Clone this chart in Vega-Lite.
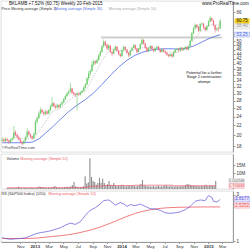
{
"$schema": "https://vega.github.io/schema/vega-lite/v6.json",
"padding": 0,
"spacing": 0,
"config": {"view": {"stroke": "#c8c8c8", "strokeWidth": 0.6}, "font": "Liberation Sans", "concat": {"spacing": 0}, "axis": {"labelFontSize": 4.5, "labelColor": "#333", "domainColor": "#999", "tickColor": "#999", "tickSize": 2, "labelPadding": 1, "grid": false, "title": null, "labelOverlap": false}, "axisX": {"labelOverlap": false, "labelSeparation": 0}, "axisTemporal": {"labelOverlap": false}},
"datasets": {
"one": [{}],
"p": [
{"d":"2012-08-17","o":19.0,"h":19.6,"l":18.7,"c":19.2,"v":0.6},
{"d":"2012-08-24","o":19.2,"h":19.5,"l":18.6,"c":18.9,"v":0.5},
{"d":"2012-08-31","o":18.9,"h":19.6,"l":18.7,"c":19.3,"v":0.7},
{"d":"2012-09-07","o":19.3,"h":19.5,"l":18.8,"c":19.0,"v":0.6},
{"d":"2012-09-14","o":19.0,"h":19.2,"l":18.4,"c":18.7,"v":0.5},
{"d":"2012-09-21","o":18.7,"h":19.4,"l":18.5,"c":19.1,"v":0.8},
{"d":"2012-09-28","o":19.1,"h":19.7,"l":18.9,"c":19.4,"v":0.6},
{"d":"2012-10-05","o":19.4,"h":21.9,"l":19.3,"c":20.6,"v":1.4},
{"d":"2012-10-12","o":20.6,"h":21.0,"l":19.8,"c":20.1,"v":0.9},
{"d":"2012-10-19","o":20.1,"h":20.3,"l":19.4,"c":19.6,"v":0.6},
{"d":"2012-10-26","o":19.6,"h":19.9,"l":19.0,"c":19.2,"v":0.5},
{"d":"2012-11-02","o":19.2,"h":19.4,"l":18.5,"c":18.6,"v":0.7},
{"d":"2012-11-09","o":18.6,"h":18.9,"l":18.1,"c":18.4,"v":0.8},
{"d":"2012-11-16","o":18.4,"h":19.1,"l":18.3,"c":18.9,"v":0.6},
{"d":"2012-11-23","o":18.9,"h":19.8,"l":18.8,"c":19.6,"v":0.7},
{"d":"2012-11-30","o":19.6,"h":21.4,"l":19.5,"c":20.7,"v":1.1},
{"d":"2012-12-07","o":20.7,"h":21.0,"l":20.0,"c":20.2,"v":0.7},
{"d":"2012-12-14","o":20.2,"h":20.4,"l":19.5,"c":19.7,"v":0.6},
{"d":"2012-12-21","o":19.7,"h":19.9,"l":19.1,"c":19.4,"v":0.5},
{"d":"2012-12-28","o":19.4,"h":20.5,"l":19.3,"c":20.2,"v":0.9},
{"d":"2013-01-04","o":20.2,"h":23.2,"l":20.1,"c":22.8,"v":1.6},
{"d":"2013-01-11","o":22.8,"h":24.0,"l":22.4,"c":23.6,"v":1.2},
{"d":"2013-01-18","o":23.6,"h":25.2,"l":23.4,"c":24.8,"v":1.3},
{"d":"2013-01-25","o":24.8,"h":26.2,"l":24.5,"c":25.6,"v":1.0},
{"d":"2013-02-01","o":25.6,"h":25.9,"l":24.7,"c":25.0,"v":0.8},
{"d":"2013-02-08","o":25.0,"h":25.3,"l":24.2,"c":24.6,"v":0.7},
{"d":"2013-02-15","o":24.6,"h":25.6,"l":24.3,"c":25.2,"v":0.9},
{"d":"2013-02-22","o":25.2,"h":25.5,"l":24.4,"c":24.7,"v":0.8},
{"d":"2013-03-01","o":24.7,"h":25.8,"l":24.5,"c":25.5,"v":1.0},
{"d":"2013-03-08","o":25.5,"h":26.9,"l":25.3,"c":26.5,"v":1.2},
{"d":"2013-03-15","o":26.5,"h":29.0,"l":26.3,"c":27.3,"v":1.9},
{"d":"2013-03-22","o":27.3,"h":27.6,"l":26.3,"c":26.6,"v":1.1},
{"d":"2013-03-29","o":26.6,"h":26.9,"l":25.8,"c":26.2,"v":0.8},
{"d":"2013-04-05","o":26.2,"h":27.2,"l":26.0,"c":26.8,"v":0.9},
{"d":"2013-04-12","o":26.8,"h":27.0,"l":25.9,"c":26.3,"v":0.7},
{"d":"2013-04-19","o":26.3,"h":27.3,"l":26.1,"c":27.0,"v":1.0},
{"d":"2013-04-26","o":27.0,"h":27.9,"l":26.8,"c":27.5,"v":1.1},
{"d":"2013-05-03","o":27.5,"h":28.8,"l":27.3,"c":28.4,"v":1.3},
{"d":"2013-05-10","o":28.4,"h":29.7,"l":28.2,"c":29.3,"v":1.4},
{"d":"2013-05-17","o":29.3,"h":30.4,"l":29.0,"c":30.0,"v":1.2},
{"d":"2013-05-24","o":30.0,"h":31.0,"l":29.7,"c":30.6,"v":1.5},
{"d":"2013-05-31","o":30.6,"h":33.4,"l":30.4,"c":31.5,"v":2.4},
{"d":"2013-06-07","o":31.5,"h":31.8,"l":29.9,"c":30.2,"v":4.4},
{"d":"2013-06-14","o":30.2,"h":30.6,"l":29.4,"c":29.8,"v":1.6},
{"d":"2013-06-21","o":29.8,"h":30.2,"l":29.0,"c":29.6,"v":1.2},
{"d":"2013-06-28","o":29.6,"h":30.4,"l":25.5,"c":30.0,"v":1.0},
{"d":"2013-07-05","o":30.0,"h":30.3,"l":29.3,"c":29.7,"v":1.1},
{"d":"2013-07-12","o":29.7,"h":30.7,"l":29.5,"c":30.3,"v":1.3},
{"d":"2013-07-19","o":30.3,"h":31.2,"l":30.0,"c":30.8,"v":1.8},
{"d":"2013-07-26","o":30.8,"h":32.2,"l":30.6,"c":31.8,"v":8.0},
{"d":"2013-08-02","o":31.8,"h":33.2,"l":31.5,"c":32.8,"v":3.5},
{"d":"2013-08-09","o":32.8,"h":35.2,"l":32.6,"c":34.8,"v":4.2},
{"d":"2013-08-16","o":34.8,"h":37.4,"l":34.0,"c":36.6,"v":19.4},
{"d":"2013-08-23","o":36.6,"h":38.0,"l":35.8,"c":37.4,"v":7.5},
{"d":"2013-08-30","o":37.4,"h":41.2,"l":37.0,"c":39.8,"v":5.0},
{"d":"2013-09-06","o":39.8,"h":41.8,"l":39.2,"c":41.0,"v":4.4},
{"d":"2013-09-13","o":41.0,"h":41.5,"l":39.8,"c":40.4,"v":2.6},
{"d":"2013-09-20","o":40.4,"h":42.2,"l":40.1,"c":41.6,"v":3.8},
{"d":"2013-09-27","o":41.6,"h":44.0,"l":41.3,"c":43.5,"v":7.0},
{"d":"2013-10-04","o":43.5,"h":45.6,"l":43.0,"c":45.0,"v":4.0},
{"d":"2013-10-11","o":45.0,"h":48.2,"l":44.6,"c":47.5,"v":6.5},
{"d":"2013-10-18","o":47.5,"h":50.8,"l":47.0,"c":49.6,"v":3.8},
{"d":"2013-10-25","o":49.6,"h":50.2,"l":47.6,"c":48.2,"v":2.4},
{"d":"2013-11-01","o":48.2,"h":48.7,"l":45.9,"c":46.5,"v":3.0},
{"d":"2013-11-08","o":46.5,"h":48.5,"l":45.8,"c":47.8,"v":5.0},
{"d":"2013-11-15","o":47.8,"h":48.1,"l":44.6,"c":45.0,"v":2.6},
{"d":"2013-11-22","o":45.0,"h":45.5,"l":43.2,"c":44.2,"v":2.0},
{"d":"2013-11-29","o":44.2,"h":46.5,"l":43.9,"c":46.0,"v":3.8},
{"d":"2013-12-06","o":46.0,"h":47.9,"l":45.6,"c":47.3,"v":2.2},
{"d":"2013-12-13","o":47.3,"h":47.6,"l":45.0,"c":45.5,"v":1.8},
{"d":"2013-12-20","o":45.5,"h":45.9,"l":43.5,"c":44.0,"v":2.0},
{"d":"2013-12-27","o":44.0,"h":44.4,"l":42.6,"c":43.2,"v":1.7},
{"d":"2014-01-03","o":43.2,"h":46.2,"l":42.9,"c":45.8,"v":2.6},
{"d":"2014-01-10","o":45.8,"h":47.8,"l":45.4,"c":47.2,"v":2.1},
{"d":"2014-01-17","o":47.2,"h":47.5,"l":45.5,"c":46.0,"v":1.8},
{"d":"2014-01-24","o":46.0,"h":46.3,"l":44.1,"c":44.6,"v":1.6},
{"d":"2014-01-31","o":44.6,"h":45.0,"l":42.8,"c":43.5,"v":2.0},
{"d":"2014-02-07","o":43.5,"h":45.9,"l":43.2,"c":45.5,"v":1.9},
{"d":"2014-02-14","o":45.5,"h":47.2,"l":45.2,"c":46.8,"v":1.7},
{"d":"2014-02-21","o":46.8,"h":48.6,"l":46.5,"c":48.0,"v":2.2},
{"d":"2014-02-28","o":48.0,"h":48.4,"l":46.0,"c":46.5,"v":1.8},
{"d":"2014-03-07","o":46.5,"h":46.8,"l":44.5,"c":45.0,"v":1.6},
{"d":"2014-03-14","o":45.0,"h":46.8,"l":44.7,"c":46.3,"v":2.0},
{"d":"2014-03-21","o":46.3,"h":49.0,"l":46.0,"c":48.5,"v":2.4},
{"d":"2014-03-28","o":48.5,"h":51.8,"l":48.2,"c":50.5,"v":3.0},
{"d":"2014-04-04","o":50.5,"h":51.0,"l":48.3,"c":48.8,"v":5.6},
{"d":"2014-04-11","o":48.8,"h":49.2,"l":46.3,"c":46.8,"v":2.4},
{"d":"2014-04-18","o":46.8,"h":47.1,"l":44.8,"c":45.3,"v":2.0},
{"d":"2014-04-25","o":45.3,"h":46.9,"l":45.0,"c":46.5,"v":1.7},
{"d":"2014-05-02","o":46.5,"h":48.0,"l":46.2,"c":47.6,"v":1.8},
{"d":"2014-05-09","o":47.6,"h":47.9,"l":45.8,"c":46.2,"v":1.5},
{"d":"2014-05-16","o":46.2,"h":46.5,"l":44.9,"c":45.4,"v":1.6},
{"d":"2014-05-23","o":45.4,"h":47.0,"l":45.1,"c":46.6,"v":1.9},
{"d":"2014-05-30","o":46.6,"h":47.8,"l":46.3,"c":47.3,"v":1.4},
{"d":"2014-06-06","o":47.3,"h":47.6,"l":45.6,"c":46.0,"v":1.7},
{"d":"2014-06-13","o":46.0,"h":46.3,"l":44.6,"c":45.0,"v":2.0},
{"d":"2014-06-20","o":45.0,"h":46.6,"l":44.7,"c":46.2,"v":1.5},
{"d":"2014-06-27","o":46.2,"h":46.5,"l":44.8,"c":45.2,"v":1.6},
{"d":"2014-07-04","o":45.2,"h":45.5,"l":44.1,"c":44.6,"v":1.9},
{"d":"2014-07-11","o":44.6,"h":44.9,"l":43.3,"c":43.8,"v":2.2},
{"d":"2014-07-18","o":43.8,"h":44.1,"l":42.6,"c":43.2,"v":2.4},
{"d":"2014-07-25","o":43.2,"h":44.4,"l":42.9,"c":44.0,"v":1.8},
{"d":"2014-08-01","o":44.0,"h":44.3,"l":42.5,"c":43.0,"v":1.6},
{"d":"2014-08-08","o":43.0,"h":45.2,"l":42.8,"c":44.8,"v":2.1},
{"d":"2014-08-15","o":44.8,"h":46.3,"l":44.5,"c":45.9,"v":1.5},
{"d":"2014-08-22","o":45.9,"h":46.8,"l":45.6,"c":46.3,"v":1.4},
{"d":"2014-08-29","o":46.3,"h":46.6,"l":45.1,"c":45.6,"v":1.7},
{"d":"2014-09-05","o":45.6,"h":47.2,"l":45.3,"c":46.8,"v":1.6},
{"d":"2014-09-12","o":46.8,"h":47.1,"l":45.5,"c":45.9,"v":1.5},
{"d":"2014-09-19","o":45.9,"h":47.0,"l":45.6,"c":46.6,"v":1.8},
{"d":"2014-09-26","o":46.6,"h":47.7,"l":46.3,"c":47.2,"v":1.6},
{"d":"2014-10-03","o":47.2,"h":47.5,"l":45.6,"c":46.0,"v":1.9},
{"d":"2014-10-10","o":46.0,"h":47.9,"l":45.7,"c":47.5,"v":2.3},
{"d":"2014-10-17","o":47.5,"h":50.8,"l":47.2,"c":50.2,"v":3.1},
{"d":"2014-10-24","o":50.2,"h":54.8,"l":49.8,"c":54.0,"v":2.8},
{"d":"2014-10-31","o":54.0,"h":57.4,"l":53.5,"c":56.6,"v":2.6},
{"d":"2014-11-07","o":56.6,"h":59.3,"l":56.0,"c":58.5,"v":2.2},
{"d":"2014-11-14","o":58.5,"h":59.0,"l":56.6,"c":57.2,"v":1.9},
{"d":"2014-11-21","o":57.2,"h":57.8,"l":54.6,"c":55.3,"v":2.1},
{"d":"2014-11-28","o":55.3,"h":59.4,"l":55.0,"c":58.8,"v":1.8},
{"d":"2014-12-05","o":58.8,"h":60.1,"l":58.2,"c":59.2,"v":2.0},
{"d":"2014-12-12","o":59.2,"h":59.6,"l":56.4,"c":57.0,"v":1.6},
{"d":"2014-12-19","o":57.0,"h":57.5,"l":55.0,"c":55.6,"v":1.9},
{"d":"2014-12-26","o":55.6,"h":58.4,"l":55.3,"c":57.8,"v":1.7},
{"d":"2015-01-02","o":57.8,"h":61.2,"l":57.4,"c":60.5,"v":2.2},
{"d":"2015-01-09","o":60.5,"h":63.8,"l":60.0,"c":62.4,"v":2.6},
{"d":"2015-01-16","o":62.4,"h":62.9,"l":60.4,"c":61.0,"v":1.8},
{"d":"2015-01-23","o":61.0,"h":61.4,"l":57.6,"c":58.2,"v":2.1},
{"d":"2015-01-30","o":58.2,"h":58.6,"l":54.3,"c":55.8,"v":2.4},
{"d":"2015-02-06","o":55.8,"h":57.2,"l":55.2,"c":56.5,"v":1.9},
{"d":"2015-02-13","o":56.8,"h":57.4,"l":54.8,"c":56.5,"v":2.0},
{"d":"2015-02-20","o":56.5,"h":62.0,"l":56.2,"c":60.75,"v":5.0}
],
"ma30": [
{"d":"2012-08-17","v":18.6},{"d":"2012-10-26","v":18.6},{"d":"2012-12-21","v":18.7},{"d":"2013-01-18","v":19.3},{"d":"2013-02-15","v":20.4},{"d":"2013-03-15","v":21.6},{"d":"2013-04-12","v":23.0},{"d":"2013-05-24","v":25.2},{"d":"2013-06-28","v":26.8},{"d":"2013-08-02","v":28.3},{"d":"2013-09-06","v":30.2},{"d":"2013-10-11","v":32.8},{"d":"2013-11-15","v":35.8},{"d":"2013-12-20","v":38.8},{"d":"2014-01-24","v":41.5},{"d":"2014-02-28","v":43.6},{"d":"2014-04-04","v":45.0},{"d":"2014-05-09","v":45.9},{"d":"2014-06-13","v":46.3},{"d":"2014-07-18","v":46.4},{"d":"2014-08-22","v":46.3},{"d":"2014-09-26","v":46.5},{"d":"2014-10-31","v":47.6},{"d":"2014-12-05","v":49.5},{"d":"2015-01-09","v":51.5},{"d":"2015-02-20","v":53.25}
],
"ma10": [
{"d":"2012-10-19","v":19.4},{"d":"2012-11-30","v":19.3},{"d":"2013-01-04","v":19.9},{"d":"2013-02-08","v":22.2},{"d":"2013-03-15","v":25.1},{"d":"2013-04-19","v":26.0},{"d":"2013-05-24","v":28.0},{"d":"2013-06-28","v":29.9},{"d":"2013-08-02","v":30.6},{"d":"2013-09-06","v":35.5},{"d":"2013-10-11","v":41.2},{"d":"2013-11-15","v":46.4},{"d":"2013-12-20","v":45.7},{"d":"2014-01-24","v":45.0},{"d":"2014-02-28","v":46.0},{"d":"2014-04-04","v":47.0},{"d":"2014-05-09","v":47.1},{"d":"2014-06-13","v":46.0},{"d":"2014-07-18","v":44.9},{"d":"2014-08-22","v":44.7},{"d":"2014-09-26","v":46.0},{"d":"2014-10-31","v":50.5},{"d":"2014-12-05","v":55.5},{"d":"2015-01-09","v":58.5},{"d":"2015-02-20","v":58.4}
],
"vma": [
{"d":"2012-08-17","v":0.8},{"d":"2013-05-24","v":1.0},{"d":"2013-08-02","v":1.3},{"d":"2013-08-09","v":1.4},{"d":"2013-08-16","v":1.75},{"d":"2013-10-11","v":2.2},{"d":"2014-02-28","v":2.4},{"d":"2014-08-08","v":2.4},{"d":"2014-08-15","v":2.05},{"d":"2015-02-20","v":2.0}
],
"rs": [
{"d":"2012-08-17","v":1.34},{"d":"2012-08-31","v":1.3},{"d":"2012-09-21","v":1.27},{"d":"2012-10-12","v":1.29},{"d":"2012-11-02","v":1.3},{"d":"2012-11-23","v":1.33},{"d":"2012-12-14","v":1.4},{"d":"2013-01-04","v":1.48},{"d":"2013-01-25","v":1.53},{"d":"2013-02-15","v":1.56},{"d":"2013-03-08","v":1.6},{"d":"2013-03-29","v":1.66},{"d":"2013-04-19","v":1.72},{"d":"2013-05-10","v":1.82},{"d":"2013-05-31","v":1.9},{"d":"2013-06-21","v":1.85},{"d":"2013-07-12","v":1.96},{"d":"2013-08-02","v":2.2},{"d":"2013-08-16","v":2.35},{"d":"2013-08-23","v":2.4},{"d":"2013-09-13","v":2.5},{"d":"2013-10-04","v":2.65},{"d":"2013-10-18","v":2.78},{"d":"2013-11-08","v":2.8},{"d":"2013-11-15","v":2.76},{"d":"2013-12-06","v":2.6},{"d":"2013-12-27","v":2.7},{"d":"2014-01-10","v":2.65},{"d":"2014-01-24","v":2.55},{"d":"2014-02-07","v":2.62},{"d":"2014-02-28","v":2.58},{"d":"2014-03-21","v":2.64},{"d":"2014-04-11","v":2.55},{"d":"2014-05-02","v":2.46},{"d":"2014-05-23","v":2.45},{"d":"2014-06-13","v":2.4},{"d":"2014-07-04","v":2.3},{"d":"2014-07-25","v":2.28},{"d":"2014-08-15","v":2.3},{"d":"2014-09-05","v":2.34},{"d":"2014-09-26","v":2.42},{"d":"2014-10-17","v":2.55},{"d":"2014-11-07","v":2.75},{"d":"2014-11-28","v":2.8},{"d":"2014-12-19","v":2.78},{"d":"2015-01-02","v":2.97},{"d":"2015-01-16","v":2.9},{"d":"2015-01-23","v":2.75},{"d":"2015-02-06","v":2.72},{"d":"2015-02-20","v":2.82}
],
"rsma": [
{"d":"2012-08-17","v":1.3},{"d":"2012-11-30","v":1.3},{"d":"2013-03-15","v":1.38},{"d":"2013-05-24","v":1.45},{"d":"2013-08-02","v":1.58},{"d":"2013-10-11","v":1.77},{"d":"2013-12-20","v":2.03},{"d":"2014-02-28","v":2.28},{"d":"2014-05-09","v":2.43},{"d":"2014-07-18","v":2.5},{"d":"2014-09-26","v":2.52},{"d":"2014-12-05","v":2.53},{"d":"2015-02-20","v":2.53}
]
},
"vconcat": [
{
"width": 232, "height": 151,
"layer": [
{"data": {"name": "one"}, "mark": {"type": "rule", "color": "#cdcdcd", "strokeWidth": 2},
 "encoding": {"x": {"datum": {"year": 2013, "month": 10, "date": 7}, "type": "temporal", "scale": {"domain": [{"year": 2012, "month": 8, "date": 12}, {"year": 2015, "month": 4, "date": 15}]}, "axis": null}, "x2": {"datum": {"year": 2015, "month": 2, "date": 27}}, "y": {"datum": 51.8, "type": "quantitative", "scale": {"type": "log", "domain": [17.0, 73.8], "nice": false, "zero": false}, "axis": {"orient": "right", "values": [18, 20, 22, 24, 26, 28, 30, 32, 34, 36, 38, 40, 42, 44, 46, 48, 50, 66], "format": "d", "labelOverlap": false}}}},
{"data": {"name": "ma10"}, "mark": {"type": "line", "color": "#b0b0b0", "strokeWidth": 0.8, "strokeDash": [1, 1.2]},
 "encoding": {"x": {"field": "d", "type": "temporal"}, "y": {"field": "v", "type": "quantitative"}}},
{"data": {"name": "ma30"}, "mark": {"type": "line", "color": "#4e6ae6", "strokeWidth": 0.8},
 "encoding": {"x": {"field": "d", "type": "temporal"}, "y": {"field": "v", "type": "quantitative"}}},
{"data": {"name": "p"}, "mark": {"type": "rule", "strokeWidth": 0.6},
 "encoding": {"x": {"field": "d", "type": "temporal"}, "y": {"field": "l", "type": "quantitative"}, "y2": {"field": "h"},
  "color": {"condition": {"test": "datum.c >= datum.o", "value": "#6acb6a"}, "value": "#ee6f80"}}},
{"data": {"name": "p"}, "mark": {"type": "rule", "strokeWidth": 1.3},
 "encoding": {"x": {"field": "d", "type": "temporal"}, "y": {"field": "o", "type": "quantitative"}, "y2": {"field": "c"},
  "color": {"condition": {"test": "datum.c >= datum.o", "value": "#6acb6a"}, "value": "#ee6f80"}}},
{"data": {"name": "one"}, "mark": {"type": "text", "text": ["Potential for a further", "Stage 2 continuation", "attempt"], "fontSize": 3.8, "align": "center", "baseline": "middle", "lineHeight": 4.5, "color": "#111"},
 "encoding": {"x": {"datum": {"year": 2014, "month": 12, "date": 14}, "type": "temporal"}, "y": {"datum": 36.8, "type": "quantitative"}}},
{"data": {"name": "one"}, "mark": {"type": "text", "text": "BKLAMB  +7.52% (60.75)   Weekly   20-Feb-2015", "fontSize": 4.5, "align": "left", "baseline": "middle", "color": "#111"},
 "encoding": {"x": {"datum": {"year": 2012, "month": 9, "date": 15}, "type": "temporal"}, "y": {"datum": 71.7, "type": "quantitative"}}},
{"data": {"name": "one"}, "mark": {"type": "text", "text": "www.ProRealTime.com", "fontSize": 4.5, "align": "right", "baseline": "middle", "color": "#111"},
 "encoding": {"x": {"datum": {"year": 2015, "month": 6, "date": 20}, "type": "temporal"}, "y": {"datum": 71.7, "type": "quantitative"}}},
{"data": {"name": "one"}, "mark": {"type": "text", "text": "Price  Moving average (Simple 1)", "fontSize": 3.8, "align": "left", "baseline": "middle", "color": "#333"},
 "encoding": {"x": {"datum": {"year": 2012, "month": 8, "date": 14}, "type": "temporal"}, "y": {"datum": 68.0, "type": "quantitative"}}},
{"data": {"name": "one"}, "mark": {"type": "text", "text": "Moving average (Simple 30)", "fontSize": 3.8, "align": "left", "baseline": "middle", "color": "#4e6ae6"},
 "encoding": {"x": {"datum": {"year": 2013, "month": 3, "date": 26}, "type": "temporal"}, "y": {"datum": 68.0, "type": "quantitative"}}},
{"data": {"name": "one"}, "mark": {"type": "text", "text": "Moving average (Simple 10)", "fontSize": 3.8, "align": "left", "baseline": "middle", "color": "#aaa"},
 "encoding": {"x": {"datum": {"year": 2013, "month": 11, "date": 8}, "type": "temporal"}, "y": {"datum": 68.0, "type": "quantitative"}}},
{"data": {"name": "one"}, "mark": {"type": "text", "text": "©ProRealTime.com", "fontSize": 3.8, "align": "left", "baseline": "middle", "color": "#444"},
 "encoding": {"x": {"datum": {"year": 2012, "month": 8, "date": 16}, "type": "temporal"}, "y": {"datum": 17.6, "type": "quantitative"}}},
{"data": {"name": "one"}, "mark": {"type": "rect", "width": 15, "height": 5, "color": "#f2cf1c"},
 "encoding": {"x": {"datum": {"year": 2015, "month": 5, "date": 23}, "type": "temporal"}, "y": {"datum": 60.75, "type": "quantitative"}}},
{"data": {"name": "one"}, "mark": {"type": "text", "text": "60.75", "fontSize": 4.5, "align": "center", "baseline": "middle", "color": "#111"},
 "encoding": {"x": {"datum": {"year": 2015, "month": 5, "date": 23}, "type": "temporal"}, "y": {"datum": 60.75, "type": "quantitative"}}},
{"data": {"name": "one"}, "mark": {"type": "rect", "width": 15, "height": 5, "color": "#f0f0f0", "stroke": "#bbb", "strokeWidth": 0.3},
 "encoding": {"x": {"datum": {"year": 2015, "month": 5, "date": 23}, "type": "temporal"}, "y": {"datum": 57.6, "type": "quantitative"}}},
{"data": {"name": "one"}, "mark": {"type": "text", "text": "58.40", "fontSize": 4.5, "align": "center", "baseline": "middle", "color": "#999"},
 "encoding": {"x": {"datum": {"year": 2015, "month": 5, "date": 23}, "type": "temporal"}, "y": {"datum": 57.6, "type": "quantitative"}}},
{"data": {"name": "one"}, "mark": {"type": "rect", "width": 15, "height": 5, "color": "#e4e9fb", "stroke": "#4e6ae6", "strokeWidth": 0.3},
 "encoding": {"x": {"datum": {"year": 2015, "month": 5, "date": 23}, "type": "temporal"}, "y": {"datum": 53.25, "type": "quantitative"}}},
{"data": {"name": "one"}, "mark": {"type": "text", "text": "53.25", "fontSize": 4.5, "align": "center", "baseline": "middle", "color": "#4e6ae6"},
 "encoding": {"x": {"datum": {"year": 2015, "month": 5, "date": 23}, "type": "temporal"}, "y": {"datum": 53.25, "type": "quantitative"}}}
]
},
{
"width": 232, "height": 35,
"layer": [
{"data": {"name": "p"}, "mark": {"type": "bar", "width": 1.1, "color": "#8c8c8c"},
 "encoding": {"x": {"field": "d", "type": "temporal", "scale": {"domain": [{"year": 2012, "month": 8, "date": 12}, {"year": 2015, "month": 4, "date": 15}]}, "axis": null},
  "y": {"field": "v", "type": "quantitative", "scale": {"domain": [0, 22], "nice": false}, "axis": {"orient": "right", "values": [10, 15], "labelExpr": "datum.value + 'M'"}}}},
{"data": {"name": "vma"}, "mark": {"type": "line", "color": "#e8606a", "strokeWidth": 0.7, "interpolate": "step-after"},
 "encoding": {"x": {"field": "d", "type": "temporal"}, "y": {"field": "v", "type": "quantitative"}}},
{"data": {"name": "one"}, "mark": {"type": "text", "text": "Volume", "fontSize": 3.8, "align": "left", "baseline": "middle", "color": "#333"},
 "encoding": {"x": {"datum": {"year": 2012, "month": 8, "date": 14}, "type": "temporal"}, "y": {"datum": 19.0, "type": "quantitative"}}},
{"data": {"name": "one"}, "mark": {"type": "text", "text": "Moving average (Simple 52)", "fontSize": 3.8, "align": "left", "baseline": "middle", "color": "#e8606a"},
 "encoding": {"x": {"datum": {"year": 2012, "month": 10, "date": 14}, "type": "temporal"}, "y": {"datum": 19.0, "type": "quantitative"}}},
{"data": {"name": "one"}, "mark": {"type": "rect", "width": 15, "height": 5, "color": "#f0f0f0", "stroke": "#bbb", "strokeWidth": 0.3},
 "encoding": {"x": {"datum": {"year": 2015, "month": 5, "date": 23}, "type": "temporal"}, "y": {"datum": 5.0, "type": "quantitative"}}},
{"data": {"name": "one"}, "mark": {"type": "text", "text": "5.0025M", "fontSize": 4, "align": "center", "baseline": "middle", "color": "#777"},
 "encoding": {"x": {"datum": {"year": 2015, "month": 5, "date": 23}, "type": "temporal"}, "y": {"datum": 5.0, "type": "quantitative"}}},
{"data": {"name": "one"}, "mark": {"type": "rect", "width": 15, "height": 5, "color": "#fbe3e4", "stroke": "#e8606a", "strokeWidth": 0.3},
 "encoding": {"x": {"datum": {"year": 2015, "month": 5, "date": 23}, "type": "temporal"}, "y": {"datum": 2.0, "type": "quantitative"}}},
{"data": {"name": "one"}, "mark": {"type": "text", "text": "1.7566M", "fontSize": 4, "align": "center", "baseline": "middle", "color": "#e8606a"},
 "encoding": {"x": {"datum": {"year": 2015, "month": 5, "date": 23}, "type": "temporal"}, "y": {"datum": 2.0, "type": "quantitative"}}}
]
},
{
"width": 232, "height": 51,
"layer": [
{"data": {"name": "rsma"}, "mark": {"type": "line", "color": "#ee5a60", "strokeWidth": 0.8, "interpolate": "monotone"},
 "encoding": {"x": {"field": "d", "type": "temporal", "scale": {"domain": [{"year": 2012, "month": 8, "date": 12}, {"year": 2015, "month": 4, "date": 15}]},
   "axis": {"values": [{"year": 2012, "month": 11, "date": 1}, {"year": 2013, "month": 1, "date": 1}, {"year": 2013, "month": 3, "date": 1}, {"year": 2013, "month": 5, "date": 1}, {"year": 2013, "month": 7, "date": 1}, {"year": 2013, "month": 9, "date": 1}, {"year": 2013, "month": 11, "date": 1}, {"year": 2014, "month": 1, "date": 1}, {"year": 2014, "month": 3, "date": 1}, {"year": 2014, "month": 5, "date": 1}, {"year": 2014, "month": 7, "date": 1}, {"year": 2014, "month": 9, "date": 1}, {"year": 2014, "month": 11, "date": 1}, {"year": 2015, "month": 1, "date": 1}, {"year": 2015, "month": 3, "date": 1}], "labelExpr": "month(datum.value) == 0 ? timeFormat(datum.value, '%Y') : timeFormat(datum.value, '%b')", "labelFontWeight": {"condition": {"test": "month(datum.value) == 0", "value": "bold"}, "value": "normal"}, "labelPadding": 0.5, "tickSize": 1.5, "labelFontSize": 4.3, "labelOverlap": false, "labelFlush": false, "labelSeparation": 0}},
  "y": {"field": "v", "type": "quantitative", "scale": {"domain": [1.165, 3.15], "nice": false, "zero": false}, "axis": {"orient": "right", "values": [1.2, 1.4, 1.6, 1.8, 2, 2.2, 2.4, 3], "labelOverlap": false}}}},
{"data": {"name": "rs"}, "mark": {"type": "line", "color": "#5a50d8", "strokeWidth": 0.7},
 "encoding": {"x": {"field": "d", "type": "temporal",
   "axis": {"values": [{"year": 2012, "month": 11, "date": 1}, {"year": 2013, "month": 1, "date": 1}, {"year": 2013, "month": 3, "date": 1}, {"year": 2013, "month": 5, "date": 1}, {"year": 2013, "month": 7, "date": 1}, {"year": 2013, "month": 9, "date": 1}, {"year": 2013, "month": 11, "date": 1}, {"year": 2014, "month": 1, "date": 1}, {"year": 2014, "month": 3, "date": 1}, {"year": 2014, "month": 5, "date": 1}, {"year": 2014, "month": 7, "date": 1}, {"year": 2014, "month": 9, "date": 1}, {"year": 2014, "month": 11, "date": 1}, {"year": 2015, "month": 1, "date": 1}, {"year": 2015, "month": 3, "date": 1}], "labelExpr": "month(datum.value) == 0 ? timeFormat(datum.value, '%Y') : timeFormat(datum.value, '%b')", "labelFontWeight": {"condition": {"test": "month(datum.value) == 0", "value": "bold"}, "value": "normal"}, "labelPadding": 0.5, "tickSize": 1.5, "labelFontSize": 4.3, "labelOverlap": false, "labelFlush": false, "labelSeparation": 0}},
  "y": {"field": "v", "type": "quantitative"}}},
{"data": {"name": "one"}, "mark": {"type": "text", "text": "RS (S&P500 Index) (1/50)", "fontSize": 3.8, "align": "left", "baseline": "middle", "color": "#333"},
 "encoding": {"x": {"datum": {"year": 2012, "month": 8, "date": 14}, "type": "temporal",
   "axis": {"values": [{"year": 2012, "month": 11, "date": 1}, {"year": 2013, "month": 1, "date": 1}, {"year": 2013, "month": 3, "date": 1}, {"year": 2013, "month": 5, "date": 1}, {"year": 2013, "month": 7, "date": 1}, {"year": 2013, "month": 9, "date": 1}, {"year": 2013, "month": 11, "date": 1}, {"year": 2014, "month": 1, "date": 1}, {"year": 2014, "month": 3, "date": 1}, {"year": 2014, "month": 5, "date": 1}, {"year": 2014, "month": 7, "date": 1}, {"year": 2014, "month": 9, "date": 1}, {"year": 2014, "month": 11, "date": 1}, {"year": 2015, "month": 1, "date": 1}, {"year": 2015, "month": 3, "date": 1}], "labelExpr": "month(datum.value) == 0 ? timeFormat(datum.value, '%Y') : timeFormat(datum.value, '%b')", "labelFontWeight": {"condition": {"test": "month(datum.value) == 0", "value": "bold"}, "value": "normal"}, "labelPadding": 0.5, "tickSize": 1.5, "labelFontSize": 4.3, "labelOverlap": false, "labelFlush": false, "labelSeparation": 0}},
  "y": {"datum": 3.05, "type": "quantitative"}}},
{"data": {"name": "one"}, "mark": {"type": "text", "text": "Moving average (Simple 52)", "fontSize": 3.8, "align": "left", "baseline": "middle", "color": "#ee5a60"},
 "encoding": {"x": {"datum": {"year": 2013, "month": 2, "date": 28}, "type": "temporal",
   "axis": {"values": [{"year": 2012, "month": 11, "date": 1}, {"year": 2013, "month": 1, "date": 1}, {"year": 2013, "month": 3, "date": 1}, {"year": 2013, "month": 5, "date": 1}, {"year": 2013, "month": 7, "date": 1}, {"year": 2013, "month": 9, "date": 1}, {"year": 2013, "month": 11, "date": 1}, {"year": 2014, "month": 1, "date": 1}, {"year": 2014, "month": 3, "date": 1}, {"year": 2014, "month": 5, "date": 1}, {"year": 2014, "month": 7, "date": 1}, {"year": 2014, "month": 9, "date": 1}, {"year": 2014, "month": 11, "date": 1}, {"year": 2015, "month": 1, "date": 1}, {"year": 2015, "month": 3, "date": 1}], "labelExpr": "month(datum.value) == 0 ? timeFormat(datum.value, '%Y') : timeFormat(datum.value, '%b')", "labelFontWeight": {"condition": {"test": "month(datum.value) == 0", "value": "bold"}, "value": "normal"}, "labelPadding": 0.5, "tickSize": 1.5, "labelFontSize": 4.3, "labelOverlap": false, "labelFlush": false, "labelSeparation": 0}},
  "y": {"datum": 3.05, "type": "quantitative"}}},
{"data": {"name": "one"}, "mark": {"type": "rect", "width": 15, "height": 5, "color": "#e4e3fa", "stroke": "#5a50d8", "strokeWidth": 0.3},
 "encoding": {"x": {"datum": {"year": 2015, "month": 5, "date": 23}, "type": "temporal",
   "axis": {"values": [{"year": 2012, "month": 11, "date": 1}, {"year": 2013, "month": 1, "date": 1}, {"year": 2013, "month": 3, "date": 1}, {"year": 2013, "month": 5, "date": 1}, {"year": 2013, "month": 7, "date": 1}, {"year": 2013, "month": 9, "date": 1}, {"year": 2013, "month": 11, "date": 1}, {"year": 2014, "month": 1, "date": 1}, {"year": 2014, "month": 3, "date": 1}, {"year": 2014, "month": 5, "date": 1}, {"year": 2014, "month": 7, "date": 1}, {"year": 2014, "month": 9, "date": 1}, {"year": 2014, "month": 11, "date": 1}, {"year": 2015, "month": 1, "date": 1}, {"year": 2015, "month": 3, "date": 1}], "labelExpr": "month(datum.value) == 0 ? timeFormat(datum.value, '%Y') : timeFormat(datum.value, '%b')", "labelFontWeight": {"condition": {"test": "month(datum.value) == 0", "value": "bold"}, "value": "normal"}, "labelPadding": 0.5, "tickSize": 1.5, "labelFontSize": 4.3, "labelOverlap": false, "labelFlush": false, "labelSeparation": 0}},
  "y": {"datum": 2.82, "type": "quantitative"}}},
{"data": {"name": "one"}, "mark": {"type": "text", "text": "2.8177", "fontSize": 4.5, "align": "center", "baseline": "middle", "color": "#5a50d8"},
 "encoding": {"x": {"datum": {"year": 2015, "month": 5, "date": 23}, "type": "temporal",
   "axis": {"values": [{"year": 2012, "month": 11, "date": 1}, {"year": 2013, "month": 1, "date": 1}, {"year": 2013, "month": 3, "date": 1}, {"year": 2013, "month": 5, "date": 1}, {"year": 2013, "month": 7, "date": 1}, {"year": 2013, "month": 9, "date": 1}, {"year": 2013, "month": 11, "date": 1}, {"year": 2014, "month": 1, "date": 1}, {"year": 2014, "month": 3, "date": 1}, {"year": 2014, "month": 5, "date": 1}, {"year": 2014, "month": 7, "date": 1}, {"year": 2014, "month": 9, "date": 1}, {"year": 2014, "month": 11, "date": 1}, {"year": 2015, "month": 1, "date": 1}, {"year": 2015, "month": 3, "date": 1}], "labelExpr": "month(datum.value) == 0 ? timeFormat(datum.value, '%Y') : timeFormat(datum.value, '%b')", "labelFontWeight": {"condition": {"test": "month(datum.value) == 0", "value": "bold"}, "value": "normal"}, "labelPadding": 0.5, "tickSize": 1.5, "labelFontSize": 4.3, "labelOverlap": false, "labelFlush": false, "labelSeparation": 0}},
  "y": {"datum": 2.82, "type": "quantitative"}}},
{"data": {"name": "one"}, "mark": {"type": "rect", "width": 15, "height": 5, "color": "#fbe3e4", "stroke": "#ee5a60", "strokeWidth": 0.3},
 "encoding": {"x": {"datum": {"year": 2015, "month": 5, "date": 23}, "type": "temporal",
   "axis": {"values": [{"year": 2012, "month": 11, "date": 1}, {"year": 2013, "month": 1, "date": 1}, {"year": 2013, "month": 3, "date": 1}, {"year": 2013, "month": 5, "date": 1}, {"year": 2013, "month": 7, "date": 1}, {"year": 2013, "month": 9, "date": 1}, {"year": 2013, "month": 11, "date": 1}, {"year": 2014, "month": 1, "date": 1}, {"year": 2014, "month": 3, "date": 1}, {"year": 2014, "month": 5, "date": 1}, {"year": 2014, "month": 7, "date": 1}, {"year": 2014, "month": 9, "date": 1}, {"year": 2014, "month": 11, "date": 1}, {"year": 2015, "month": 1, "date": 1}, {"year": 2015, "month": 3, "date": 1}], "labelExpr": "month(datum.value) == 0 ? timeFormat(datum.value, '%Y') : timeFormat(datum.value, '%b')", "labelFontWeight": {"condition": {"test": "month(datum.value) == 0", "value": "bold"}, "value": "normal"}, "labelPadding": 0.5, "tickSize": 1.5, "labelFontSize": 4.3, "labelOverlap": false, "labelFlush": false, "labelSeparation": 0}},
  "y": {"datum": 2.58, "type": "quantitative"}}},
{"data": {"name": "one"}, "mark": {"type": "text", "text": "2.5252", "fontSize": 4.5, "align": "center", "baseline": "middle", "color": "#ee5a60"},
 "encoding": {"x": {"datum": {"year": 2015, "month": 5, "date": 23}, "type": "temporal",
   "axis": {"values": [{"year": 2012, "month": 11, "date": 1}, {"year": 2013, "month": 1, "date": 1}, {"year": 2013, "month": 3, "date": 1}, {"year": 2013, "month": 5, "date": 1}, {"year": 2013, "month": 7, "date": 1}, {"year": 2013, "month": 9, "date": 1}, {"year": 2013, "month": 11, "date": 1}, {"year": 2014, "month": 1, "date": 1}, {"year": 2014, "month": 3, "date": 1}, {"year": 2014, "month": 5, "date": 1}, {"year": 2014, "month": 7, "date": 1}, {"year": 2014, "month": 9, "date": 1}, {"year": 2014, "month": 11, "date": 1}, {"year": 2015, "month": 1, "date": 1}, {"year": 2015, "month": 3, "date": 1}], "labelExpr": "month(datum.value) == 0 ? timeFormat(datum.value, '%Y') : timeFormat(datum.value, '%b')", "labelFontWeight": {"condition": {"test": "month(datum.value) == 0", "value": "bold"}, "value": "normal"}, "labelPadding": 0.5, "tickSize": 1.5, "labelFontSize": 4.3, "labelOverlap": false, "labelFlush": false, "labelSeparation": 0}},
  "y": {"datum": 2.58, "type": "quantitative"}}}
]
}
]
}
